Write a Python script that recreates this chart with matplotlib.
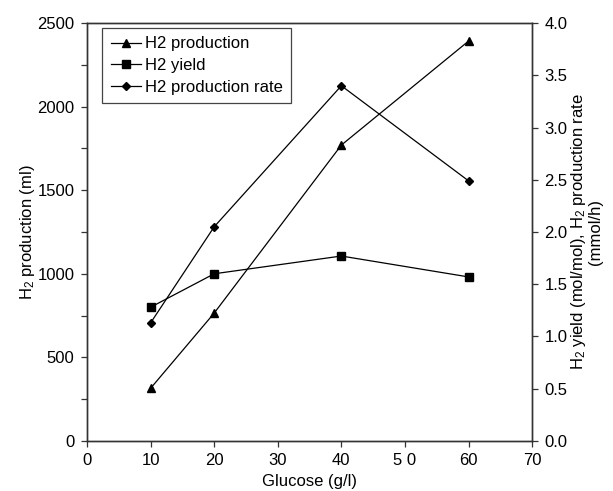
import numpy as np
import matplotlib
matplotlib.use('Agg')
import matplotlib.pyplot as plt
from matplotlib.ticker import MultipleLocator, FormatStrFormatter

plt.rcParams['font.family'] = ['Liberation Sans', 'DejaVu Sans']
plt.rcParams['mathtext.fontset'] = 'custom'
plt.rcParams['mathtext.rm'] = 'Liberation Sans'
plt.rcParams['mathtext.it'] = 'Liberation Sans'

glucose = [10, 20, 40, 60]
production = [315, 765, 1770, 2392]
yield_ = [1.28, 1.60, 1.77, 1.57]
rate = [1.13, 2.05, 3.40, 2.49]

x_ticks = [0, 10, 20, 30, 40, 50, 60, 70]
x_labels = ['0', '10', '20', '30', '40', '5 0', '60', '70']

fig = plt.figure(figsize=(6.13, 4.91), dpi=100)
ax = fig.add_axes([0.142, 0.102, 0.726, 0.851])
ax2 = ax.twinx()

fs = 12
l1, = ax.plot(glucose, production, color='black', lw=0.9, marker='^', ms=5.5, label='H2 production')
l2, = ax2.plot(glucose, yield_, color='black', lw=0.9, marker='s', ms=5.3, label='H2 yield')
l3, = ax2.plot(glucose, rate, color='black', lw=0.9, marker='D', ms=4, label='H2 production rate')

ax.set_xlim(0, 70)
ax.set_ylim(0, 2500)
ax2.set_ylim(0, 4.0)
ax.set_xticks(x_ticks)
ax.set_xticklabels(x_labels)
ax.yaxis.set_major_locator(MultipleLocator(500))
ax.yaxis.set_minor_locator(MultipleLocator(250))
ax2.yaxis.set_major_locator(MultipleLocator(0.5))
ax2.yaxis.set_major_formatter(FormatStrFormatter('%.1f'))

for a in (ax, ax2):
    a.tick_params(which='both', direction='out', labelsize=fs, width=0.9,
                  color='#333333', length=4, pad=5)
    for s in a.spines.values():
        s.set_linewidth(1.0)
        s.set_color('#333333')

ax.set_xlabel('Glucose (g/l)', fontsize=fs, labelpad=4)
ax.set_ylabel('H$_2$ production (ml)', fontsize=fs, labelpad=0)
ax2.set_ylabel('H$_2$ yield (mol/mol), H$_2$ production rate\n(mmol/h)', fontsize=fs,
               labelpad=1, linespacing=1.0)

leg = ax.legend(handles=[l1, l2, l3], loc='upper left', bbox_to_anchor=(0.034, 0.988),
                borderaxespad=0, fontsize=fs, fancybox=False, framealpha=1,
                edgecolor='#444444', borderpad=0.5, labelspacing=0.4,
                handlelength=1.8, handletextpad=0.25)
leg.get_frame().set_linewidth(0.9)

fig.savefig('out.png', dpi=100)
